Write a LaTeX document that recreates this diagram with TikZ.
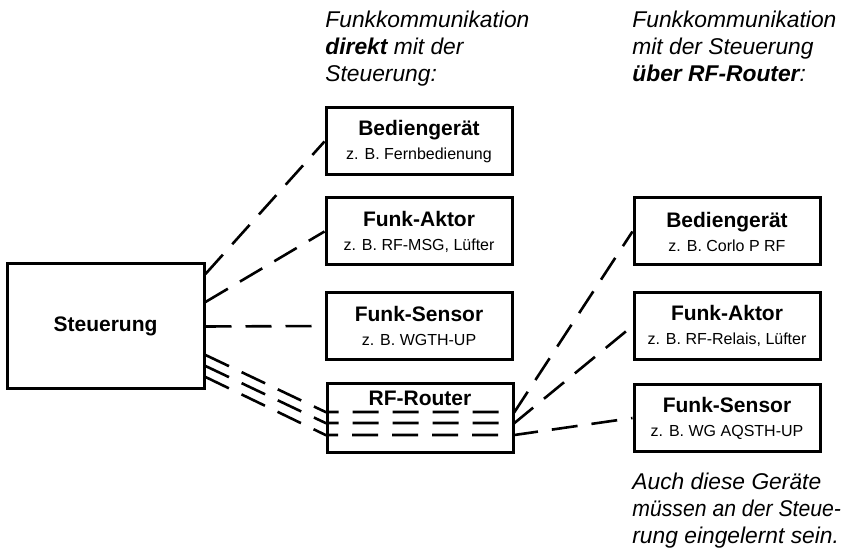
\documentclass[tikz,border=0pt]{standalone}
\usepackage{fontspec}
\setmainfont{Liberation Sans}
\newcommand{\devsub}[1]{\\{\fontsize{8}{12}\selectfont\mdseries #1}}
\begin{document}
\begin{tikzpicture}[x=0.5pt,y=-0.5pt,
    devbox/.style={draw, line width=1.5pt, minimum width=93pt, minimum height=33.5pt,
      inner sep=0pt, align=center, font=\fontsize{10.5}{12}\selectfont\bfseries},
    rtitle/.style={inner sep=0pt, font=\fontsize{10.5}{12}\selectfont\bfseries},
    radio/.style={line width=1.3pt, dash pattern=on 13pt off 7pt},
    note/.style={anchor=north west, inner sep=0pt, align=left,
      font=\fontsize{11.4}{13.5}\selectfont\itshape}]
  \useasboundingbox (0,0) rectangle (853,549);

  % Headings above the two columns
  \node[note] (headdirect) at (325,11) {Funkkommunikation\\\textbf{direkt} mit der\\Steuerung:};
  \node[note] (headrouter) at (632,11) {Funkkommunikation\\mit der Steuerung\\\textbf{über RF-Router}:};

  % Controller
  \node[devbox, minimum width=98.5pt, minimum height=62.5pt] (steuer) at (105.5,326.5) {Steuerung};

  % Devices talking directly to the controller
  \node[devbox] (bedL) at (419,141.5) {Bediengerät\devsub{z. B. Fernbedienung}};
  \node[devbox] (aktL) at (419,231.5) {Funk-Aktor\devsub{z. B. RF-MSG, Lüfter}};
  \node[devbox] (sensL) at (419,326) {Funk-Sensor\devsub{z. B. WGTH-UP}};

  % Router
  \node[devbox, minimum height=34.5pt,
    label={[rtitle, yshift=10.25pt]center:RF-Router}] (router) at (420,418.5) {};

  % Devices reached over the router
  \node[devbox] (bedR) at (727,231.5) {Bediengerät\devsub{z. B. Corlo P RF}};
  \node[devbox] (aktR) at (727,326) {Funk-Aktor\devsub{z. B. RF-Relais, Lüfter}};
  \node[devbox] (sensR) at (727,418) {Funk-Sensor\devsub{z. B. WG AQSTH-UP}};

  % Note below the right column
  \node[note] (footnote) at (632,473) {Auch diese Geräte\\\scalebox{0.93}[1]{müssen an der Steue-}\\rung eingelernt sein.};

  % Direct radio links
  \draw[radio] ([yshift=26.25pt]steuer.east) -- (bedL.west);
  \draw[radio] ([yshift=12.25pt]steuer.east) -- (aktL.west);
  \draw[radio] (steuer.east) -- (sensL.west);

  % Radio links over the router
  \draw[radio] ([yshift=-14.25pt]steuer.east) -- ([yshift=3.25pt]router.west)
    -- ([yshift=3.25pt]router.east) -- (bedR.west);
  \draw[radio] ([yshift=-19.75pt]steuer.east) -- ([yshift=-2.25pt]router.west)
    -- ([yshift=-2.25pt]router.east) -- (aktR.west);
  \draw[radio] ([yshift=-25.25pt]steuer.east) -- ([yshift=-8.25pt]router.west)
    -- ([yshift=-8.25pt]router.east) -- (sensR.west);
\end{tikzpicture}
\end{document}
